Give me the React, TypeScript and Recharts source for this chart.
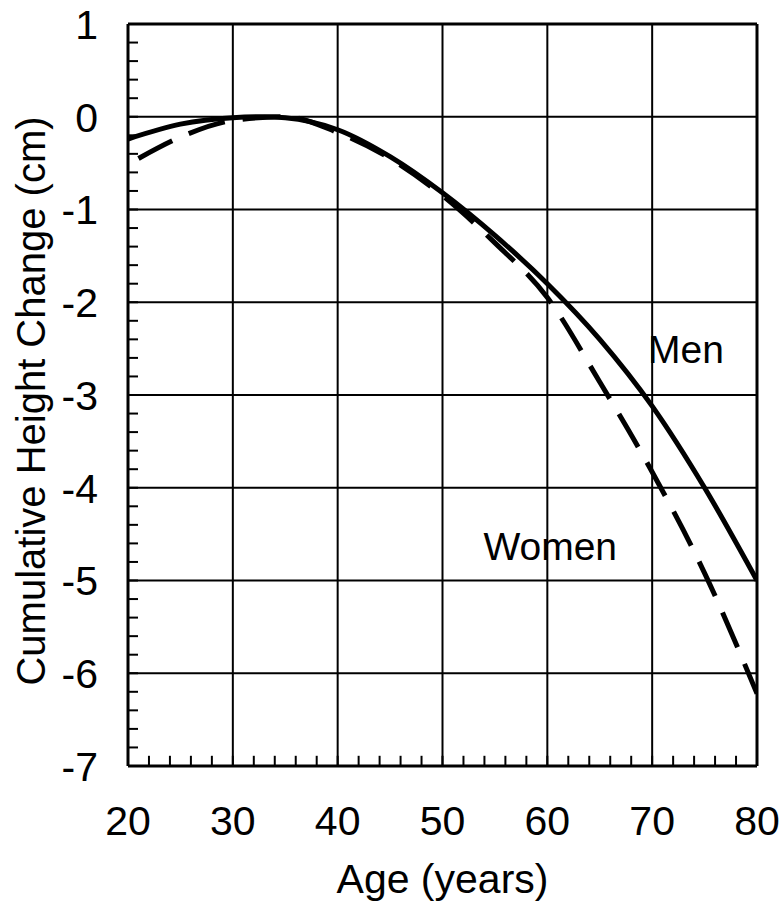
import { CartesianGrid, Line, LineChart, ReferenceDot, ReferenceLine, XAxis, YAxis } from "recharts";

const majorAges = [20, 30, 40, 50, 60, 70, 80];
const majorChanges = [1, 0, -1, -2, -3, -4, -5, -6, -7];
// minor tick marks: every 2 years / every 0.2 cm
const minorAges = Array.from({ length: 31 }, (_, i) => 20 + i * 2);
const minorChanges = Array.from({ length: 41 }, (_, i) => Math.round((1 - i * 0.2) * 10) / 10);

const menAges = [20, 25, 30, 33, 35, 40, 45, 50, 55, 60, 65, 70, 75, 80];
const menChange = [-0.24, -0.08, -0.01, 0, -0.01, -0.14, -0.43, -0.82, -1.28, -1.8, -2.4, -3.12, -4.0, -5.0];

const womenAges = [21, 25, 30, 35, 40, 45, 50, 55, 60, 65, 70, 75, 80];
const womenChange = [-0.45, -0.22, -0.04, 0, -0.17, -0.45, -0.85, -1.36, -1.95, -2.86, -3.83, -4.92, -6.22];

const menData = menAges.map((age, i) => ({ age, change: menChange[i] }));
const womenData = womenAges.map((age, i) => ({ age, change: womenChange[i] }));

const FONT = '"Liberation Sans", Arial, sans-serif';

function AgeTick({ x, y, payload }: any) {
  return (
    <text x={x} y={y + 69} textAnchor="middle" fontSize={41} fontFamily={FONT} fill="#000">
      {payload.value}
    </text>
  );
}

function ChangeTick({ x, y, payload }: any) {
  return (
    <text x={x - 30} y={y} dy="0.36em" textAnchor="end" fontSize={41} fontFamily={FONT} fill="#000">
      {payload.value}
    </text>
  );
}

// minor axes draw only their tick lines
const NoLabel = () => <g />;

function SeriesName({ cx, cy, name }: any) {
  return (
    <text x={cx} y={cy} fontSize={39} fontFamily={FONT} fill="#000">
      {name}
    </text>
  );
}

export default function App() {
  return (
    <div style={{ position: "absolute", left: 0, top: 0, width: 782, height: 901, background: "#fff" }}>
      <LineChart width={782} height={901} margin={{ top: 24, right: 25, bottom: 0, left: 0 }}>
        <CartesianGrid stroke="#000" strokeWidth={2} horizontalValues={majorChanges} verticalValues={majorAges} />
        <XAxis
          dataKey="age"
          type="number"
          domain={[20, 80]}
          ticks={majorAges}
          allowDataOverflow
          height={135}
          tickSize={0}
          tickMargin={0}
          tickLine={false}
          axisLine={{ stroke: "#000", strokeWidth: 3 }}
          tick={<AgeTick />}
          label={{
            content: ({ viewBox }: any) => (
              <text
                x={viewBox.x + viewBox.width / 2}
                y={viewBox.y + 127}
                textAnchor="middle"
                fontSize={41}
                fontFamily={FONT}
                fill="#000"
              >
                Age (years)
              </text>
            ),
          }}
        />
        <YAxis
          type="number"
          domain={[-7, 1]}
          ticks={majorChanges}
          allowDataOverflow
          width={128}
          tickSize={0}
          tickMargin={0}
          tickLine={false}
          axisLine={{ stroke: "#000", strokeWidth: 3 }}
          tick={<ChangeTick />}
          label={{
            content: ({ viewBox }: any) => {
              const cx = 45;
              const cy = viewBox.y + viewBox.height / 2 + 6;
              return (
                <text
                  x={cx}
                  y={cy}
                  transform={`rotate(-90 ${cx} ${cy})`}
                  textAnchor="middle"
                  fontSize={40}
                  fontFamily={FONT}
                  fill="#000"
                >
                  Cumulative Height Change (cm)
                </text>
              );
            },
          }}
        />
        <YAxis
          yAxisId="minor"
          type="number"
          domain={[-7, 1]}
          ticks={minorChanges}
          interval={0}
          allowDataOverflow
          width={1}
          mirror
          tickSize={10}
          tick={<NoLabel />}
          axisLine={false}
          tickLine={{ stroke: "#000", strokeWidth: 2 }}
        />
        {/* short inward ticks on the age axis */}
        {minorAges.map((a) => (
          <ReferenceLine
            key={a}
            segment={[
              { x: a, y: -7 },
              { x: a, y: -6.89 },
            ]}
            stroke="#000"
            strokeWidth={2}
          />
        ))}
        <ReferenceLine y={1} stroke="#000" strokeWidth={3} />
        <ReferenceLine x={80} stroke="#000" strokeWidth={3} />
        <Line
          data={womenData}
          dataKey="change"
          type="monotone"
          stroke="#000"
          strokeWidth={5}
          strokeDasharray="38 18"
          dot={false}
          isAnimationActive={false}
        />
        <Line
          data={menData}
          dataKey="change"
          type="monotone"
          stroke="#000"
          strokeWidth={5}
          dot={false}
          isAnimationActive={false}
        />
        <ReferenceDot x={69.6} y={-2.65} r={0} shape={(p: any) => <SeriesName {...p} name="Men" />} />
        <ReferenceDot x={53.9} y={-4.78} r={0} shape={(p: any) => <SeriesName {...p} name="Women" />} />
      </LineChart>
    </div>
  );
}
